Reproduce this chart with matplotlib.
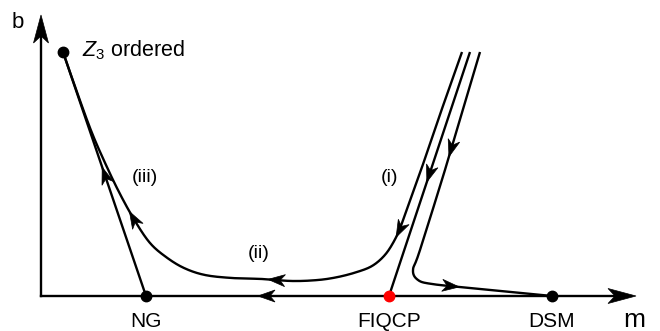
import numpy as np
import matplotlib
matplotlib.use('Agg')
import matplotlib.pyplot as plt
from matplotlib.patches import Polygon

plt.rcParams['font.family'] = ['Liberation Sans', 'DejaVu Sans']
plt.rcParams['mathtext.fontset'] = 'custom'
plt.rcParams['mathtext.rm'] = 'Liberation Sans'
plt.rcParams['mathtext.it'] = 'Liberation Sans:italic'

# fixed points (pixel frame of the schematic)
fixed_names = ['NG', 'FIQCP', 'DSM']
fixed_m = [146, 389, 552]
z3_point = (63, 52)
origin = (41, 296)
axis_end = (636, 15)

# flow lines
flow_i = [(462, 52), (445, 100), (428, 150), (412, 195), (401, 226), (393, 243),
          (384, 256), (372, 266), (357, 272), (338, 277), (318, 280), (292, 281),
          (262, 279), (232, 278), (205, 275), (184, 268), (166, 257), (150, 243),
          (135, 221), (120, 194), (106, 165), (92, 133), (78, 95), (63, 52)]
flow_mid = [(470, 52), (389, 296)]
flow_dsm = [(480, 52), (448, 160), (420, 250), (413, 270), (418, 280), (432, 284),
            (470, 288), (552, 296)]
flow_ng = [(146, 296), (63, 52)]

# arrow tips: (line, x, y)
arrow_tips = [('i', 394, 236), ('mid', 428, 182), ('dsm', 450, 156), ('dsm', 460, 287),
              ('i', 268, 279), ('i', 131, 211), ('ng', 101, 167), ('axis', 258, 296)]

labels = [('(i)', 390, 182), ('(ii)', 259, 258), ('(iii)', 145, 182)]


def smooth(pts, n=30):
    p = np.array(pts, dtype=float)
    if len(p) < 3:
        t = np.linspace(0, 1, 200)[:, None]
        return p[0] + (p[1] - p[0]) * t
    p = np.vstack([2 * p[0] - p[1], p, 2 * p[-1] - p[-2]])
    out = []
    t = np.linspace(0, 1, n, endpoint=False)[:, None]
    for k in range(1, len(p) - 2):
        p0, p1, p2, p3 = p[k - 1], p[k], p[k + 1], p[k + 2]
        out.append(0.5 * ((2 * p1) + (-p0 + p2) * t + (2 * p0 - 5 * p1 + 4 * p2 - p3) * t ** 2
                          + (-p0 + 3 * p1 - 3 * p2 + p3) * t ** 3))
    out.append(p[-2][None, :])
    return np.vstack(out)


def arrowhead(ax, tip, d, L=17, W=6, notch=5):
    d = np.asarray(d, float)
    d = d / np.hypot(*d)
    nrm = np.array([-d[1], d[0]])
    tip = np.asarray(tip, float)
    base = tip - L * d
    pts = [tip, base + W * nrm, tip - (L - notch) * d, base - W * nrm]
    ax.add_patch(Polygon(pts, closed=True, fc='k', ec='k', lw=0.5, zorder=4))


fig = plt.figure(figsize=(6.6, 3.31), dpi=100)
ax = fig.add_axes([0, 0, 1, 1])
ax.set_xlim(0, 660)
ax.set_ylim(331, 0)
ax.axis('off')

lw = 1.7
# axes
ax.plot([origin[0], axis_end[0] - 10], [origin[1], origin[1]], color='k', lw=lw)
ax.plot([origin[0], origin[0]], [origin[1], axis_end[1] + 10], color='k', lw=lw)
arrowhead(ax, (axis_end[0], origin[1]), (1, 0), L=28, W=7.5, notch=7)
arrowhead(ax, (origin[0], axis_end[1]), (0, -1), L=28, W=7.5, notch=7)

curves = {'i': smooth(flow_i), 'mid': smooth(flow_mid), 'dsm': smooth(flow_dsm),
          'ng': smooth(flow_ng)}
for key in ['i', 'mid', 'dsm', 'ng']:
    c = curves[key]
    ax.plot(c[:, 0], c[:, 1], color='k', lw=lw, solid_capstyle='butt')

for key, x, y in arrow_tips:
    if key == 'axis':
        arrowhead(ax, (x, y), (-1, 0))
        continue
    c = curves[key]
    j = np.argmin(np.hypot(c[:, 0] - x, c[:, 1] - y))
    j0, j1 = max(j - 3, 0), min(j + 3, len(c) - 1)
    arrowhead(ax, c[j], c[j1] - c[j0])

# fixed points
for name, m in zip(fixed_names, fixed_m):
    col = 'red' if name == 'FIQCP' else 'k'
    ax.plot(m, origin[1], 'o', color=col, ms=7.5, zorder=5)
    ax.text(m, 327, name, ha='center', va='baseline', fontsize=15)
ax.plot(*z3_point, 'o', color='k', ms=7.5, zorder=5)
ax.text(82, 56, r'$Z_3$ ordered', ha='left', va='baseline', fontsize=15.5)

for s, x, y in labels:
    ax.text(x, y, s, ha='center', va='baseline', fontsize=14)

ax.text(17.5, 28, 'b', ha='center', va='baseline', fontsize=16)
ax.text(634, 327, 'm', ha='center', va='baseline', fontsize=19)

fig.savefig('out.png', dpi=100)
